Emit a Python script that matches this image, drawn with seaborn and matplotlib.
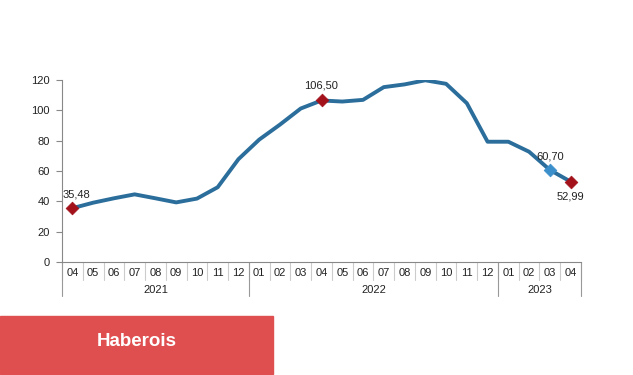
import matplotlib
matplotlib.use("Agg")
import matplotlib.pyplot as plt
import matplotlib.transforms as mtransforms
import seaborn as sns
import pandas as pd
import numpy as np

months = ["04", "05", "06", "07", "08", "09", "10", "11", "12",
          "01", "02", "03", "04", "05", "06", "07", "08", "09", "10", "11", "12",
          "01", "02", "03", "04"]
years = ["2021", "2022", "2023"]
year_counts = [9, 12, 4]
values = [35.48, 39.1, 42.0, 44.6, 42.0, 39.3, 41.8, 49.3, 67.8,
          80.7, 90.6, 101.2, 106.50, 105.8, 106.9, 115.3, 117.1, 119.8, 117.5, 104.7, 79.3,
          79.3, 72.7, 60.70, 52.99]
labels = {0: "35,48", 12: "106,50", 23: "60,70", 24: "52,99"}
red_points = [0, 12, 24]
blue_points = [23]

sns.set_theme(style="white")
plt.rcParams["font.family"] = ["Liberation Sans", "DejaVu Sans"]

fig = plt.figure(figsize=(6.33, 3.75), dpi=100)
ax = fig.add_axes([62 / 633, 1 - 262 / 375, (581 - 62) / 633, (262 - 80) / 375])

df = pd.DataFrame({"x": np.arange(len(values)), "y": values})
line_color = "#2b6e9c"
sns.lineplot(data=df, x="x", y="y", ax=ax, color=line_color, linewidth=2.8)
sns.scatterplot(data=df.iloc[red_points], x="x", y="y", ax=ax, marker="D",
                color="#a3121b", s=42, zorder=5, edgecolor="#a3121b")
sns.scatterplot(data=df.iloc[blue_points], x="x", y="y", ax=ax, marker="D",
                color="#3b8fcb", s=42, zorder=5, edgecolor="#3b8fcb")

offsets = {0: (3, 6), 12: (0, 7), 23: (0, 6), 24: (0, -11)}
for i, txt in labels.items():
    dx, dy = offsets[i]
    ax.annotate(txt, (i, values[i]), xytext=(dx, dy), textcoords="offset points",
                ha="center", va="bottom" if dy > 0 else "center", fontsize=8, color="#222222")

ax.set_xlim(-0.5, len(values) - 0.5)
ax.set_ylim(0, 120)
ax.set_yticks(np.arange(0, 121, 20))
ax.set_yticklabels([str(v) for v in range(0, 121, 20)], fontsize=8, color="#222222")
ax.set_xticks(np.arange(len(values)))
ax.set_xticklabels(months, fontsize=8, color="#222222")
ax.tick_params(axis="x", length=0, pad=4)
ax.tick_params(axis="y", length=4, width=0.8, color="#888888", left=True, pad=5)
ax.set_xlabel("")
ax.set_ylabel("")
for s in ["top", "right"]:
    ax.spines[s].set_visible(False)
for s in ["left", "bottom"]:
    ax.spines[s].set_color("#888888")
    ax.spines[s].set_linewidth(0.8)

trans = mtransforms.blended_transform_factory(ax.transData, ax.transAxes)
# month separators
for b in np.arange(len(values) + 1) - 0.5:
    ax.plot([b, b], [0, -0.1], transform=trans, color="#cccccc", lw=0.8, clip_on=False)
# year separators and labels
start = 0
bounds = [-0.5]
for yr, cnt in zip(years, year_counts):
    center = start + (cnt - 1) / 2
    ax.text(center, -0.155, yr, transform=trans, ha="center", va="center", fontsize=8, color="#222222")
    start += cnt
    bounds.append(start - 0.5)
for b in bounds:
    ax.plot([b, b], [0, -0.185], transform=trans, color="#999999", lw=0.8, clip_on=False)

# banner
fig.patches.append(plt.Rectangle((0, 1 - 374 / 375), 273 / 633, 58 / 375,
                                 transform=fig.transFigure, color="#e04f50", zorder=0))
fig.text(137 / 633, 1 - 342 / 375, "Haberois", color="white", fontsize=13.5,
         fontweight="bold", ha="center", va="center")

fig.savefig("out.png", dpi=100)
